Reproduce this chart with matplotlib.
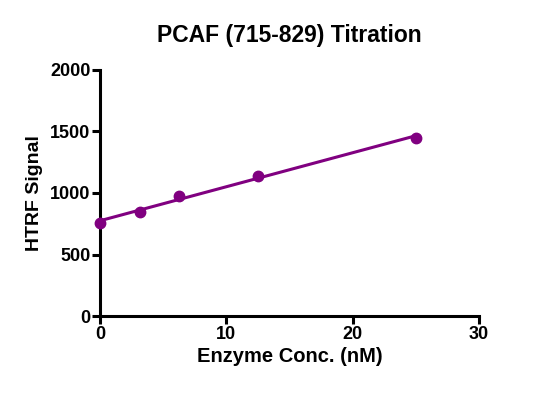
import matplotlib
matplotlib.use("Agg")
import matplotlib.pyplot as plt
import numpy as np

plt.rcParams['font.family'] = ['Liberation Sans', 'DejaVu Sans']

# Data
enzyme_nM = [0, 3.125, 6.25, 12.5, 25]
htrf_signal = [754, 848, 976, 1141, 1447]
x_ticks = [0, 10, 20, 30]
y_ticks = [0, 500, 1000, 1500, 2000]

purple = '#800080'

fig = plt.figure(figsize=(5.38, 3.93), dpi=100)
ax = fig.add_axes([0.186, 0.195, 0.704, 0.628])

# linear fit through the points
slope, intercept = np.polyfit(enzyme_nM, htrf_signal, 1)
xfit = np.array([min(enzyme_nM), max(enzyme_nM)])
ax.plot(xfit, slope * xfit + intercept, color=purple, linewidth=2.2, zorder=3)
ax.plot(enzyme_nM, htrf_signal, 'o', color=purple, markersize=7.5, zorder=4, clip_on=False)

ax.set_xlim(0, 30)
ax.set_ylim(0, 2000)
ax.set_xticks(x_ticks)
ax.set_yticks(y_ticks)

for side in ['top', 'right']:
    ax.spines[side].set_visible(False)
for side in ['left', 'bottom']:
    ax.spines[side].set_linewidth(2.2)
ax.tick_params(width=2.2, length=6, labelsize=13, pad=1)
for lab in ax.get_xticklabels() + ax.get_yticklabels():
    lab.set_fontweight('bold')

ax.set_xlabel('Enzyme Conc. (nM)', fontsize=14.5, fontweight='bold', labelpad=3)
ax.set_ylabel('HTRF Signal', fontsize=14, fontweight='bold', labelpad=5)
ax.set_title('PCAF (715-829) Titration', fontsize=16.5, fontweight='bold', pad=20)

fig.savefig('out.png', dpi=100)
